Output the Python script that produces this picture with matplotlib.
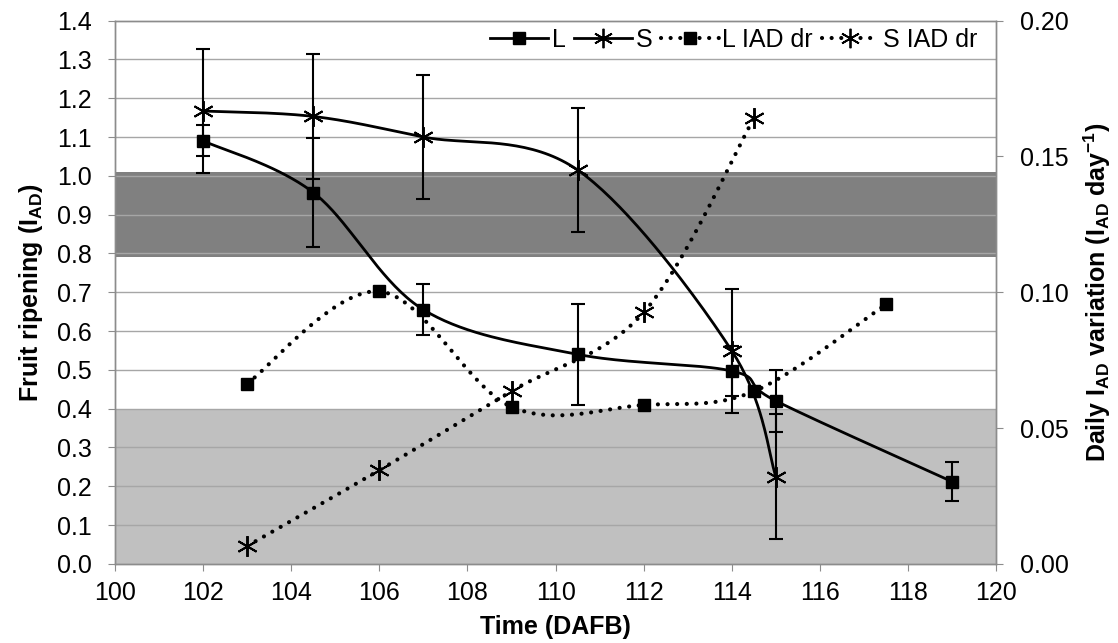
import numpy as np
import matplotlib
matplotlib.use('Agg')
import matplotlib.pyplot as plt
from matplotlib.lines import Line2D

# ---------------- data ----------------
L_time = [102, 104.5, 107, 110.5, 114, 115, 119]
L_vals = [1.09, 0.957, 0.655, 0.54, 0.497, 0.42, 0.212]
L_err = [0.04, 0.14, 0.065, 0.13, 0.065, 0.08, 0.05]

S_time = [102, 104.5, 107, 110.5, 114, 115]
S_vals = [1.167, 1.153, 1.10, 1.015, 0.549, 0.225]
S_err = [0.16, 0.16, 0.16, 0.16, 0.16, 0.16]

Ldr_time = [103, 106, 109, 112, 114.5, 117.5]
Ldr_vals = [0.0664, 0.1003, 0.0578, 0.0585, 0.0635, 0.0955]

Sdr_time = [103, 106, 109, 112, 114.5]
Sdr_vals = [0.0066, 0.0345, 0.0636, 0.0926, 0.164]

left_ticks = [0.0, 0.1, 0.2, 0.3, 0.4, 0.5, 0.6, 0.7, 0.8, 0.9, 1.0, 1.1, 1.2, 1.3, 1.4]
right_ticks = [0.00, 0.05, 0.10, 0.15, 0.20]
x_ticks = [100, 102, 104, 106, 108, 110, 112, 114, 116, 118, 120]
dark_band = (0.79, 1.01)
light_band = (0.0, 0.40)

# ---------------- style ----------------
plt.rcParams['font.family'] = ['Liberation Sans', 'DejaVu Sans']
plt.rcParams['mathtext.fontset'] = 'custom'
plt.rcParams['mathtext.rm'] = 'Liberation Sans:bold'
plt.rcParams['mathtext.it'] = 'Liberation Sans:bold'
plt.rcParams['mathtext.bf'] = 'Liberation Sans:bold'

fig = plt.figure(figsize=(11.18, 6.43), dpi=100)
fig.subplots_adjust(left=0.1029, right=0.891, bottom=0.123, top=0.968)
ax = fig.add_subplot(111)
ax2 = ax.twinx()

ax.set_xlim(100, 120)
ax.set_ylim(0, 1.4)
ax2.set_ylim(0, 0.20)

grid_col = '#a6a6a6'
ax.axhspan(*light_band, color='#c0c0c0', zorder=0, lw=0)
ax.axhspan(*dark_band, color='#808080', zorder=0, lw=0)
for t in left_ticks[1:-1]:
    ax.axhline(t, color=grid_col, lw=1.0, zorder=0.5)

for a in (ax, ax2):
    for s in a.spines.values():
        s.set_color('#8c8c8c')
        s.set_linewidth(1.0)

ax.set_xticks(x_ticks)
ax.set_yticks(left_ticks)
ax.set_yticklabels([f'{v:.1f}' for v in left_ticks])
ax2.set_yticks(right_ticks)
ax2.set_yticklabels([f'{v:.2f}' for v in right_ticks])
ax.tick_params(axis='x', labelsize=18, color='#8c8c8c', length=5, direction='out', pad=7)
ax.tick_params(axis='y', labelsize=18, color='#8c8c8c', length=5, direction='out', pad=12)
ax2.tick_params(axis='y', labelsize=18, color='#8c8c8c', length=5, direction='out', pad=12)


def smooth(a, xs, ys, n=40):
    pts = a.transData.transform(np.column_stack([xs, ys]))
    P = np.vstack([pts[0], pts, pts[-1]])
    out = []
    t = np.linspace(0, 1, n)[:, None]
    for i in range(1, len(P) - 2):
        p0, p1, p2, p3 = P[i - 1], P[i], P[i + 1], P[i + 2]
        c1 = p1 + (p2 - p0) / 6.0
        c2 = p2 - (p3 - p1) / 6.0
        seg = (1 - t) ** 3 * p1 + 3 * (1 - t) ** 2 * t * c1 + 3 * (1 - t) * t ** 2 * c2 + t ** 3 * p2
        out.append(seg if i == 1 else seg[1:])
    out = np.vstack(out)
    res = a.transData.inverted().transform(out)
    return res[:, 0], res[:, 1]


star = (6, 2, 0)
dot_style = (0, (0.01, 2.3))
dot_lw = 3.0

# left axis series
sx, sy = smooth(ax, L_time, L_vals)
ax.plot(sx, sy, color='black', lw=2.0, zorder=3)
ax.errorbar(L_time, L_vals, yerr=L_err, fmt='s', color='black', ms=9,
            ecolor='black', elinewidth=1.5, capsize=5, capthick=1.5, zorder=4)

sx, sy = smooth(ax, S_time, S_vals)
ax.plot(sx, sy, color='black', lw=2.0, zorder=3)
ax.errorbar(S_time, S_vals, yerr=S_err, fmt='none', ecolor='black',
            elinewidth=1.5, capsize=5, capthick=1.5, zorder=4)
ax.plot(S_time, S_vals, ls='none', marker=star, ms=15, mew=1.4, color='black', zorder=5)

# right axis series
sx, sy = smooth(ax2, Ldr_time, Ldr_vals)
ax2.plot(sx, sy, color='black', lw=dot_lw, ls=dot_style, dash_capstyle='round', zorder=3)
ax2.plot(Ldr_time, Ldr_vals, ls='none', marker='s', ms=9, color='black', zorder=4)

sx, sy = smooth(ax2, Sdr_time, Sdr_vals)
ax2.plot(sx, sy, color='black', lw=dot_lw, ls=dot_style, dash_capstyle='round', zorder=3)
ax2.plot(Sdr_time, Sdr_vals, ls='none', marker=star, ms=15, mew=1.4, color='black', zorder=4)

ax.set_xlabel('Time (DAFB)', fontsize=18, fontweight='bold')
ax.xaxis.set_label_coords(0.5, -0.094)
ax.set_ylabel('Fruit ripening (I$_{AD}$)', fontsize=18, fontweight='bold', labelpad=8)
ax2.set_ylabel('Daily I$_{AD}$ variation (I$_{AD}$ day$^{-1}$)', fontsize=18,
               fontweight='bold', labelpad=9)

handles = [
    Line2D([], [], color='black', lw=2.0, marker='s', ms=8),
    Line2D([], [], color='black', lw=2.0, marker=star, ms=14, mew=1.3),
    Line2D([], [], color='black', lw=dot_lw, ls=dot_style, dash_capstyle='round', marker='s', ms=8),
    Line2D([], [], color='black', lw=dot_lw, ls=dot_style, dash_capstyle='round', marker=star, ms=14, mew=1.3),
]
labels = ['L', 'S', 'L IAD dr', 'S IAD dr']
ax2.legend(handles, labels, loc='upper right', ncol=4, frameon=False, fontsize=18,
           handlelength=2.3, handletextpad=0.15, columnspacing=0.35,
           bbox_to_anchor=(0.99, 1.005), borderaxespad=0.0)

fig.savefig('out.png', dpi=100)
